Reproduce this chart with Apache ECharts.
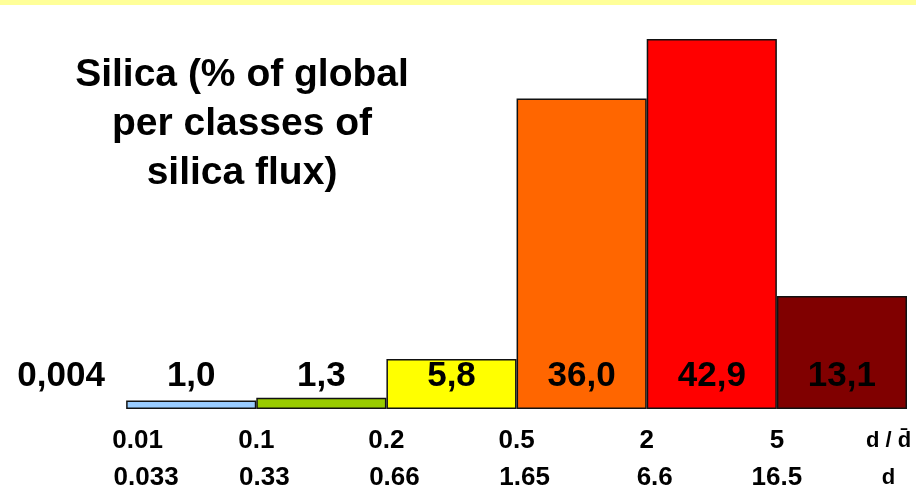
<!DOCTYPE html>
<html>
<head>
<meta charset="utf-8">
<script src="https://cdn.jsdelivr.net/npm/echarts@6/dist/echarts.min.js"></script>
<style>
  html, body { margin: 0; padding: 0; background: #fff; }
  #main { width: 916px; height: 502px; }
</style>
</head>
<body>
<div id="main"></div>
<script>
// flux classes (bars) and share of global silica, %
const classes = ['c0', 'c1', 'c2', 'c3', 'c4', 'c5', 'c6']
const silicaShare = [0.004, 1.0, 1.3, 5.8, 36.0, 42.9, 13.1]
const barColors = ['#CCFFFF', '#99CCFF', '#99CC00', '#FFFF00', '#FF6600', '#FF0000', '#800000']

// class limits, shown at the boundaries between bars
const ratioTicks = ['', '0.01', '0.1', '0.2', '0.5', '2', '5', 'd / d\u0304']
const diamTicks = ['', '0.033', '0.33', '0.66', '1.65', '6.6', '16.5', 'd']

const titleText = 'Silica (% of global\nper classes of\nsilica flux)'

const FONT = '"Liberation Sans", Arial, sans-serif'

function fmt(v) {
  // comma decimals like the original slide
  return (v < 0.1 ? String(v) : v.toFixed(1)).replace('.', ',')
}

const tickStyle = { fontFamily: FONT, fontWeight: 'bold', fontSize: 26, lineHeight: 37, color: '#000' }

const chart = echarts.init(document.getElementById('main'))

const option = {
  animation: false,
  backgroundColor: '#fff',
  graphic: [
    // pale yellow strip along the top of the slide
    { type: 'rect', shape: { x: 0, y: 0, width: 916, height: 5 }, style: { fill: '#FFFF99' }, silent: true },
    {
      type: 'text',
      x: 242,
      y: 51,
      style: {
        text: titleText,
        fill: '#000',
        font: 'bold 39px ' + FONT,
        lineHeight: 49,
        align: 'center',
        verticalAlign: 'top'
      }
    }
  ],
  grid: {
    left: -4,
    right: 9,
    top: 21,
    bottom: 93,
    containLabel: false,
    outerBoundsMode: 'none'
  },
  xAxis: [
    {
      type: 'category',
      position: 'top',
      show: false,
      data: classes
    },
    {
      type: 'category',
      position: 'bottom',
      boundaryGap: false,
      data: ratioTicks,
      axisLine: { show: false },
      axisTick: { show: false },
      axisLabel: {
        interval: 0,
        margin: 13,
        align: 'center',
        formatter: (val, i) => {
          let top = 'a', bot = 'b'
          if (i === 1) { top = 'a1'; bot = 'b1' }
          if (i === 6) bot = 'a'
          if (i === 7) { top = 'z'; bot = 'z' }
          return '{' + top + '|' + val + '}\n{' + bot + '|' + diamTicks[i] + '}'
        },
        rich: {
          a: { ...tickStyle },
          a1: { ...tickStyle, padding: [0, 0, 0, 23] },
          b: { ...tickStyle, padding: [0, 0, 0, 16] },
          b1: { ...tickStyle, padding: [0, 0, 0, 40] },
          z: { ...tickStyle, fontSize: 22, padding: [0, 37, 0, 0] }
        }
      }
    }
  ],
  yAxis: {
    type: 'value',
    show: false,
    min: 0,
    max: 45
  },
  series: [
    {
      type: 'bar',
      xAxisIndex: 0,
      barWidth: '100%',
      barCategoryGap: '0%',
      data: silicaShare.map((v, i) => ({
        value: v,
        itemStyle: {
          color: barColors[i],
          borderColor: '#111',
          borderWidth: v < 0.1 ? 0 : 1.5
        }
      })),
      label: {
        show: true,
        position: 'insideBottom',
        distance: 15,
        color: '#000',
        fontFamily: FONT,
        fontWeight: 'bold',
        fontSize: 35,
        formatter: (p) => fmt(p.value)
      }
    }
  ]
}

option && chart.setOption(option)
</script>
</body>
</html>
